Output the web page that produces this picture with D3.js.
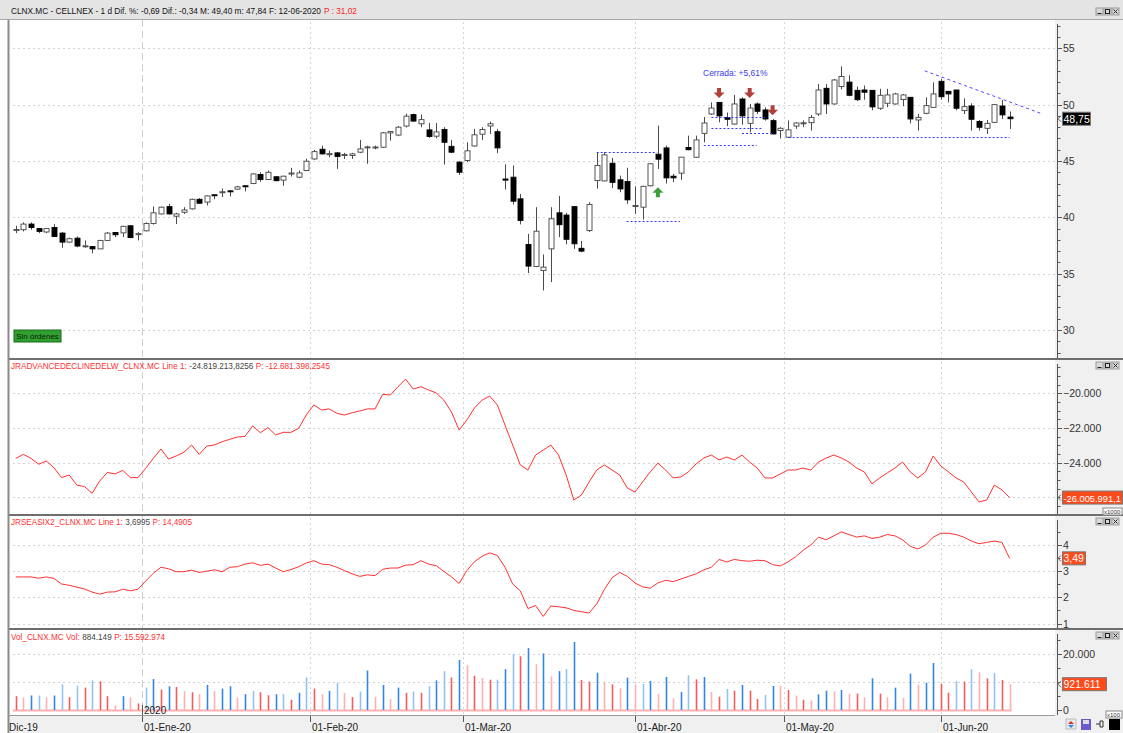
<!DOCTYPE html>
<html>
<head>
<meta charset="utf-8">
<script src="https://cdn.jsdelivr.net/npm/d3@7"></script>
<style>
  body { margin: 0; background: #fff; }
  svg { display: block; font-family: "Liberation Sans", Arial, sans-serif; }
  .grid { stroke: #d4d4d4; stroke-dasharray: 2,3; }
  .tick-label { font-size: 10.5px; fill: #333; }
  .date-label { font-size: 10px; fill: #222; }
</style>
</head>
<body>
<div id="chart"></div>
<script>
// daily candles, CLNX.MC, Dec-2019 .. 12-Jun-2020 (index = trading day)
const OPEN = [38.88,38.9,39.4,39.0,38.7,39.1,38.6,37.8,38.15,37.45,37.4,37.2,37.95,38.65,38.62,39.25,38.52,38.8,39.45,40.3,
  40.95,40.1,40.45,40.75,41.6,41.35,42.0,42.23,42.35,42.5,42.8,43.0,43.8,43.35,43.6,43.3,43.88,43.56,44.15,45.18,
  46.04,45.6,45.72,45.53,45.48,45.78,46.2,46.2,46.22,47.49,47.3,48.1,49.12,48.3,47.76,47.2,47.79,46.3,44.9,45.04,
  46.33,47.38,48.1,47.6,43.4,43.56,41.64,37.59,35.64,35.29,37.2,40.4,40.2,40.95,37.25,38.83,43.26,43.23,44.8,43.33,
  43.18,41.0,40.9,42.8,45.6,46.16,43.65,43.92,46.2,45.33,47.45,49.17,50.2,48.85,48.28,50.5,48.34,50.06,49.53,48.58,
  47.7,47.11,48.1,48.35,48.4,49.17,51.45,50.06,51.6,52.0,51.27,51.3,51.27,49.68,50.12,50.06,50.45,50.65,48.64,49.23,
  49.76,52.07,51.18,51.3,49.47,49.88,48.5,47.9,48.43,49.88,48.9];
const HIGH = [39.25,39.55,39.55,39.05,39.05,39.4,38.7,38.2,38.3,37.95,37.45,38.0,38.7,38.7,39.25,39.3,38.68,39.55,40.95,40.95,
  41.2,40.4,40.9,41.65,41.7,41.95,42.05,42.55,42.4,42.8,42.85,43.9,44.0,44.15,43.65,43.7,44.39,44.15,45.2,45.98,
  46.36,45.92,45.78,45.72,45.72,46.87,46.36,46.36,47.56,47.67,48.1,49.2,49.2,49.12,48.38,48.38,48.0,46.87,44.98,46.66,
  47.85,48.0,48.5,47.85,44.7,44.59,42.08,38.53,40.9,36.7,40.9,41.9,40.4,40.95,37.9,41.34,45.7,45.78,45.27,43.7,
  44.4,42.75,42.8,44.8,48.14,46.36,43.85,45.34,47.25,47.25,48.9,50.2,50.2,49.3,50.86,50.65,50.06,50.2,49.76,48.73,
  48.0,48.6,48.43,48.6,49.08,51.83,51.83,52.28,53.4,52.6,51.6,51.7,51.27,51.4,51.4,51.04,50.95,50.65,49.17,50.65,
  51.98,52.28,51.2,51.3,50.56,50.12,48.64,48.64,50.06,50.42,49.4];
const LOW = [38.6,38.75,38.9,38.6,38.6,38.25,37.3,37.75,37.35,37.3,36.8,37.2,37.9,38.25,38.25,38.15,37.95,38.75,39.35,40.25,
  40.25,39.4,40.3,40.7,41.2,41.05,41.6,41.8,41.85,42.45,42.3,42.95,43.15,43.3,43.2,42.8,43.62,43.47,44.1,45.1,
  45.57,45.33,44.3,45.18,45.18,45.69,44.75,46.04,46.16,46.81,47.2,47.97,48.47,48.0,47.05,47.02,44.68,45.69,43.76,44.9,
  46.27,46.87,47.4,45.69,42.47,41.14,39.37,35.05,35.58,33.51,34.25,38.24,37.6,37.2,36.9,38.69,42.55,43.2,42.6,42.23,
  41.2,40.3,39.8,42.75,44.3,43.0,43.12,43.33,45.95,45.27,46.66,49.1,48.43,48.1,48.22,48.22,47.55,49.17,48.58,47.35,
  47.0,47.05,47.85,48.0,47.7,49.0,49.17,50.0,51.36,50.74,50.32,50.44,49.5,49.53,49.77,50.0,49.86,48.34,47.7,49.14,
  49.7,50.44,50.2,49.5,49.17,47.7,47.7,47.4,48.37,48.73,47.84];
const CLOSE = [38.92,39.4,39.1,38.75,39.0,38.3,37.8,38.1,37.45,37.47,37.2,37.95,38.6,38.45,39.2,38.2,38.55,39.45,40.4,40.9,
  40.3,40.3,40.65,41.6,41.25,41.9,41.95,42.27,42.3,42.7,42.75,43.85,43.35,44.0,43.25,43.65,43.93,43.94,44.98,45.83,
  45.63,45.65,45.4,45.57,45.63,46.07,46.25,46.24,47.5,47.61,48.0,48.98,48.54,48.67,47.17,47.58,46.66,45.78,44.0,45.9,
  47.32,47.79,48.3,46.16,43.3,41.43,39.72,35.67,38.77,35.58,39.87,39.34,38.05,37.65,37.0,41.14,44.6,45.54,43.1,42.52,
  41.55,41.05,42.75,44.75,45.16,43.5,43.5,45.34,46.0,46.87,48.37,49.7,49.0,48.7,50.06,49.0,49.7,49.41,48.73,47.4,
  47.9,47.76,48.37,48.39,48.87,51.3,50.06,52.19,52.5,50.83,50.44,51.1,49.8,50.83,50.86,50.95,50.86,48.73,48.87,49.91,
  50.95,50.7,50.95,49.68,49.82,48.7,47.99,48.34,50.0,49.09,48.75];

// JRADVANCEDECLINEDELW (axis units x1000)
const ADL = [-23.75,-23.52,-23.75,-24.09,-23.90,-24.29,-24.86,-24.71,-25.29,-25.38,-25.76,-25.05,-24.56,-24.65,-24.44,-24.86,-24.86,-24.32,-23.75,-23.21,
  -23.79,-23.61,-23.40,-22.98,-23.52,-23.04,-22.98,-22.79,-22.65,-22.52,-22.48,-21.88,-22.27,-21.98,-22.40,-22.25,-22.25,-22.02,-21.25,-20.67,
  -20.96,-20.90,-21.15,-21.25,-21.12,-21.02,-20.90,-20.90,-20.06,-20.10,-19.62,-19.19,-19.75,-19.62,-19.81,-19.98,-20.39,-21.08,-22.12,-21.54,
  -20.85,-20.39,-20.16,-20.67,-21.83,-22.98,-24.13,-24.42,-23.56,-23.27,-22.98,-23.56,-24.71,-26.15,-25.86,-25.11,-24.42,-24.13,-24.42,-24.71,
  -25.46,-25.69,-25.11,-24.53,-24.02,-24.42,-24.88,-24.82,-24.53,-24.07,-23.73,-23.56,-23.84,-23.67,-23.84,-23.56,-23.96,-24.31,-24.88,-24.88,
  -24.65,-24.42,-24.42,-24.31,-24.42,-23.96,-23.73,-23.56,-23.73,-23.96,-24.31,-24.53,-25.22,-24.88,-24.59,-24.31,-23.96,-24.53,-24.88,-24.53,
  -23.62,-24.19,-24.53,-24.88,-25.11,-25.69,-26.26,-26.15,-25.29,-25.57,-26.01];

// JRSEASIX2
const SEASIX = [2.78,2.78,2.78,2.73,2.78,2.72,2.51,2.46,2.39,2.32,2.20,2.12,2.20,2.21,2.31,2.25,2.31,2.62,2.92,3.15,
  3.09,2.98,2.98,3.04,2.95,3.00,3.05,2.98,3.15,3.17,3.27,3.32,3.22,3.27,3.12,2.98,3.06,3.17,3.31,3.40,
  3.27,3.25,3.15,3.02,2.90,2.80,2.86,2.83,3.07,3.12,3.12,3.23,3.25,3.40,3.27,3.21,2.99,2.78,2.53,3.02,
  3.36,3.57,3.70,3.60,3.15,2.51,2.25,1.57,1.69,1.27,1.67,1.64,1.60,1.50,1.45,1.40,1.75,2.30,2.75,2.95,
  2.80,2.55,2.40,2.35,2.55,2.65,2.60,2.70,2.80,2.90,3.05,3.15,3.45,3.35,3.45,3.40,3.38,3.42,3.40,3.25,
  3.20,3.35,3.55,3.80,4.00,4.30,4.20,4.35,4.50,4.40,4.30,4.35,4.25,4.30,4.40,4.35,4.20,3.95,3.85,4.00,
  4.30,4.45,4.45,4.40,4.30,4.15,4.05,4.10,4.15,4.10,3.49];

// volume (axis units x100) and bar shade: B/b up vs previous volume, R/r down
const VOLUME = [4940,4470,5170,5170,4470,5170,9170,4590,8700,8000,10580,10230,4940,1650,4940,4470,2350,8000,11050,7290,
  8470,8230,6820,6350,5640,8940,6820,7640,8470,4470,5640,6820,6350,5290,5640,5640,3650,6120,11640,7640,
  5640,6820,9640,6120,4590,6590,14110,4700,8940,3880,8000,6120,6590,6120,8470,10580,13880,11640,17880,16000,
  12230,11410,10820,10820,14580,20000,19170,22110,16350,20230,12000,13880,14640,24280,10710,10120,13330,10120,9170,7740,
  11550,9170,9290,10360,5830,11790,4170,6430,12380,10950,11790,6430,4760,7500,6900,8930,6900,3930,5360,8570,
  8570,7140,5120,3690,3450,5590,6900,6660,7140,5830,5830,4520,11310,5830,4520,7970,4280,12970,9040,9760,
  16780,9290,6190,10360,10120,14520,13450,11310,13210,10710,9216];
const VOL_SHADE = ("R r B b r B b R b R b R R r B r R b B R B R r R r B r B B r B b R R B b R B b R " +
  "r B b r R b B r B r B R b R b B b R B r R r R b B b R B r B r B b B R R B r R r " +
  "B r b B r B r B b R B r R b R B R R b B r R r R r B B r B r R r B R r B r B r B " +
  "B R R b R b r R b R r").split(" ");

// month ticks, fractional trading-day positions
const MONTH_TICKS = [
  { pos: 16.5, label: "01-Ene-20" },
  { pos: 38.5, label: "01-Feb-20" },
  { pos: 58.5, label: "01-Mar-20" },
  { pos: 81, label: "01-Abr-20" },
  { pos: 100.5, label: "01-May-20" },
  { pos: 121, label: "01-Jun-20" },
];
const EDGE_LABEL = "Dic-19"; // left-most month, only its tail is on screen
const YEAR_TICK = { pos: 16.5, label: "2020" };

// drawing annotations on the price panel
const SIGNALS = [
  { i: 84, type: "buy", price: 42.67 },
  { i: 92, type: "sell", price: 50.6 },
  { i: 96, type: "sell", price: 50.6 },
  { i: 99, type: "sell", price: 49.05 },
];
const LEVELS = [
  { from: 76, to: 83.9, price: 45.83 },
  { from: 79.9, to: 86.9, price: 39.69 },
  { from: 90, to: 96.9, price: 46.42 },
  { from: 91, to: 97.8, price: 47.93 },
  { from: 91, to: 98, price: 48.94 },
  { from: 95, to: 99.1, price: 47.46 },
  { from: 101.1, to: 130, price: 47.16 },
];
const TREND = [{ i: 118.9, price: 53.0 }, { i: 134, price: 49.25 }];

// panel headers: [text, colour] pieces and the width the platform gives them
const TITLES = [
  { y: 14, width: 346, parts: [["CLNX.MC - CELLNEX - 1 d Dif. %: -0,69 Dif.: -0,34 M: 49,40 m: 47,84 F: 12-06-2020", "#111"], ["P : 31,02", "#ff2020"]] },
  { y: 369, width: 319, parts: [["JRADVANCEDECLINEDELW_CLNX.MC", "#ff3030"], ["Line 1:", "#ff3030"], ["-24.819.213,8256", "#444"], ["P: -12.681.398,2545", "#ff3030"]] },
  { y: 525, width: 181, parts: [["JRSEASIX2_CLNX.MC", "#ff3030"], ["Line 1:", "#ff3030"], ["3,6995", "#444"], ["P: 14,4905", "#ff3030"]] },
  { y: 640, width: 154, parts: [["Vol_CLNX.MC", "#ff3030"], ["Vol:", "#ff3030"], ["884.149", "#444"], ["P: 15.592.974", "#ff3030"]] },
];

const W = 1123, H = 733;
const LEFT = 9, RIGHT = 1055;
const PANELS = [
  { key: "price", top: 20, bottom: 358 },
  { key: "adl", top: 360, bottom: 514 },
  { key: "sea", top: 516, bottom: 628 },
  { key: "vol", top: 630, bottom: 715 },
];

const svg = d3.select("#chart").append("svg").attr("width", W).attr("height", H);

const x = d3.scaleLinear().domain([0, CLOSE.length - 1]).range([15.7, 1009.6]);
const yPrice = d3.scaleLinear().domain([30, 55]).range([330, 48.3]);
const yAdl = d3.scaleLinear().domain([-26, -20]).range([497.4, 393.3]);
const ySea = d3.scaleLinear().domain([1, 4]).range([623.5, 545]);
const yVol = d3.scaleLinear().domain([0, 20000]).range([710, 654]);

const esNum = (v, digits) => {
  const s = d3.format(`,.${digits}f`)(v);
  return s.replace(/,/g, "#").replace(".", ",").replace(/#/g, ".");
};

// backgrounds
svg.append("rect").attr("width", W).attr("height", H).attr("fill", "#fff");
svg.append("rect").attr("x", RIGHT).attr("y", 19).attr("width", W - RIGHT).attr("height", 697).attr("fill", "#f0f0f0");
svg.append("rect").attr("x", 8).attr("y", 715).attr("width", W - 8).attr("height", 18).attr("fill", "#f0f0f0");
svg.append("rect").attr("width", W).attr("height", 19).attr("fill", "#e4e4e4");
svg.append("line").attr("x1", 0).attr("x2", W).attr("y1", 19.5).attr("y2", 19.5).attr("stroke", "#a8a8a8");

// grid
const scales = { price: yPrice, adl: yAdl, sea: ySea, vol: yVol };
const gridVals = {
  price: [30, 35, 40, 45, 50, 55],
  adl: [-26, -24, -22, -20],
  sea: [1, 2, 3, 4],
  vol: [10000, 20000],
};
const gGrid = svg.append("g");
PANELS.forEach((p) => {
  gGrid.selectAll(null)
    .data(gridVals[p.key])
    .join("line")
    .attr("class", "grid")
    .attr("x1", LEFT + 4).attr("x2", RIGHT)
    .attr("y1", (d) => Math.round(scales[p.key](d)) + 0.5)
    .attr("y2", (d) => Math.round(scales[p.key](d)) + 0.5);
  gGrid.selectAll(null)
    .data(MONTH_TICKS.filter((t) => t.pos !== YEAR_TICK.pos))
    .join("line")
    .attr("class", "grid")
    .attr("x1", (d) => Math.round(x(d.pos)) + 0.5).attr("x2", (d) => Math.round(x(d.pos)) + 0.5)
    .attr("y1", p.top + 2).attr("y2", p.bottom);
});
svg.append("line")
  .attr("x1", Math.round(x(YEAR_TICK.pos)) + 0.5).attr("x2", Math.round(x(YEAR_TICK.pos)) + 0.5)
  .attr("y1", 20).attr("y2", 712)
  .attr("stroke", "#cfcfcf").attr("stroke-dasharray", "7,4");

// candles
const gCandle = svg.append("g");
const idx = d3.range(CLOSE.length);
gCandle.selectAll("line")
  .data(idx)
  .join("line")
  .attr("x1", (i) => Math.round(x(i)) + 0.5).attr("x2", (i) => Math.round(x(i)) + 0.5)
  .attr("y1", (i) => yPrice(HIGH[i])).attr("y2", (i) => yPrice(LOW[i]))
  .attr("stroke", "#4a4a4a");
gCandle.selectAll("rect")
  .data(idx)
  .join("rect")
  .attr("x", (i) => Math.round(x(i)) - 2)
  .attr("y", (i) => yPrice(Math.max(OPEN[i], CLOSE[i])))
  .attr("width", 5)
  .attr("height", (i) => Math.max(1, Math.abs(yPrice(OPEN[i]) - yPrice(CLOSE[i]))))
  .attr("fill", (i) => (CLOSE[i] < OPEN[i] ? "#000" : "#fff"))
  .attr("stroke", (i) => (CLOSE[i] < OPEN[i] ? "#000" : "#444"))
  .attr("stroke-width", 0.9);

// blue drawing lines
svg.append("g").selectAll("line")
  .data(LEVELS)
  .join("line")
  .attr("x1", (d) => x(d.from)).attr("x2", (d) => x(d.to))
  .attr("y1", (d) => Math.round(yPrice(d.price)) + 0.5).attr("y2", (d) => Math.round(yPrice(d.price)) + 0.5)
  .attr("stroke", "#3838ff").attr("stroke-dasharray", "2,2");
svg.append("line")
  .attr("x1", x(TREND[0].i)).attr("y1", yPrice(TREND[0].price))
  .attr("x2", x(TREND[1].i)).attr("y2", yPrice(TREND[1].price))
  .attr("stroke", "#4a4aff").attr("stroke-dasharray", "3,3");

// signal arrows
const gSig = svg.append("g");
SIGNALS.forEach((s) => {
  const cx = x(s.i), ty = yPrice(s.price);
  const path = s.type === "sell"
    ? `M${cx - 2},${ty - 10} h4 v4.5 h3.5 l-5.5,5.5 l-5.5,-5.5 h3.5 z`
    : `M${cx - 2},${ty + 10} h4 v-4.5 h3.5 l-5.5,-5.5 l-5.5,5.5 h3.5 z`;
  gSig.append("path").attr("d", path).attr("fill", s.type === "sell" ? "#b0403c" : "#3e9e3e");
});
svg.append("text").attr("x", 703).attr("y", 76).attr("font-size", 8.5).attr("fill", "#3b3bf0").text("Cerrada: +5,61%");

// "Sin órdenes" tag
svg.append("rect").attr("x", 14).attr("y", 330).attr("width", 47).attr("height", 12).attr("fill", "#2f9f2f").attr("stroke", "#1d6d1d");
svg.append("text").attr("x", 37.5).attr("y", 339).attr("text-anchor", "middle").attr("font-size", 8).attr("fill", "#0b220b").text("Sin órdenes");

// indicator lines
svg.append("path")
  .datum(ADL)
  .attr("fill", "none").attr("stroke", "#ff3030").attr("stroke-width", 1)
  .attr("d", d3.line().x((d, i) => x(i)).y((d) => yAdl(d)));
svg.append("path")
  .datum(SEASIX)
  .attr("fill", "none").attr("stroke", "#ff3030").attr("stroke-width", 1)
  .attr("d", d3.line().x((d, i) => x(i)).y((d) => ySea(d)));

// volume
const VOL_COLORS = { R: "#f45c5c", r: "#ffb0b0", B: "#2f86e6", b: "#92c3f2" };
svg.append("line").attr("x1", x(0) - 3).attr("x2", x(CLOSE.length - 1) + 2)
  .attr("y1", yVol(0) + 0.5).attr("y2", yVol(0) + 0.5).attr("stroke", "#ffb0b0").attr("stroke-width", 2);
svg.append("g").selectAll("line")
  .data(VOLUME)
  .join("line")
  .attr("x1", (d, i) => Math.round(x(i)) + 0.5).attr("x2", (d, i) => Math.round(x(i)) + 0.5)
  .attr("y1", yVol(0)).attr("y2", (d) => yVol(d))
  .attr("stroke", (d, i) => VOL_COLORS[VOL_SHADE[i]]).attr("stroke-width", 1.6);

// panel separators and left border
[359, 515, 629].forEach((yy) => {
  svg.append("line").attr("x1", 8).attr("x2", W).attr("y1", yy).attr("y2", yy).attr("stroke", "#6e6e6e").attr("stroke-width", 2);
});
svg.append("line").attr("x1", 8.5).attr("x2", 8.5).attr("y1", 20).attr("y2", 733).attr("stroke", "#8a8a8a").attr("stroke-width", 2);

// right axes
function drawAxis(scale, top, bottom, labelVals, minorStep, fmt) {
  const g = svg.append("g");
  g.append("line").attr("x1", RIGHT + 2.5).attr("x2", RIGHT + 2.5).attr("y1", top + 4).attr("y2", bottom)
    .attr("stroke", "#555");
  const lo = scale.invert(bottom), hi = scale.invert(top + 4);
  const minors = d3.range(Math.ceil(lo / minorStep) * minorStep, hi, minorStep);
  g.selectAll(".minor")
    .data(minors)
    .join("line")
    .attr("x1", RIGHT + 2.5).attr("x2", RIGHT + 5.5)
    .attr("y1", (d) => Math.round(scale(d)) + 0.5).attr("y2", (d) => Math.round(scale(d)) + 0.5)
    .attr("stroke", "#555");
  g.selectAll(".major")
    .data(labelVals)
    .join("line")
    .attr("x1", RIGHT + 2.5).attr("x2", RIGHT + 7)
    .attr("y1", (d) => Math.round(scale(d)) + 0.5).attr("y2", (d) => Math.round(scale(d)) + 0.5)
    .attr("stroke", "#555");
  g.selectAll("text")
    .data(labelVals)
    .join("text")
    .attr("class", "tick-label")
    .attr("x", RIGHT + 8).attr("y", (d) => scale(d) + 4)
    .text(fmt);
}
drawAxis(yPrice, 20, 358, [30, 35, 40, 45, 50, 55], 1, (d) => d);
drawAxis(yAdl, 360, 514, [-24, -22, -20], 0.5, (d) => esNum(d * 1000, 0));
drawAxis(ySea, 516, 628, [1, 2, 3, 4], 0.5, (d) => d);
drawAxis(yVol, 630, 715, [0, 20000], 5000, (d) => esNum(d, 0));

// last-value boxes
function valueBox(yy, text, w, fill, fs) {
  const g = svg.append("g");
  g.append("path").attr("d", `M${RIGHT + 6},${yy - 3} l-3,3 l3,3`).attr("fill", "none").attr("stroke", "#666");
  g.append("rect").attr("x", RIGHT + 7.5).attr("y", yy - 6.5).attr("width", w).attr("height", 13)
    .attr("fill", fill).attr("stroke", "#777");
  g.append("text").attr("x", RIGHT + 8.5).attr("y", yy + 4).attr("font-size", fs).attr("fill", "#fff").text(text);
}
valueBox(yPrice(CLOSE[CLOSE.length - 1]), "48,75", 28, "#000", 10.5);
valueBox(yAdl(ADL[ADL.length - 1]), "-26.005.991,1", 60, "#ff4a1a", 9.3);
valueBox(ySea(SEASIX[SEASIX.length - 1]), "3,49", 23, "#ff4a1a", 10.5);
valueBox(yVol(VOLUME[VOLUME.length - 1]), "921.611", 44, "#ff4a1a", 10.5);

// scale multiplier tags
function multTag(x0, yy, text, w) {
  svg.append("rect").attr("x", x0).attr("y", yy).attr("width", w).attr("height", 7).attr("fill", "#fff").attr("stroke", "#888");
  svg.append("text").attr("x", x0 + 1).attr("y", yy + 6).attr("font-size", 6).attr("fill", "#333").text(text);
}
multTag(1103, 508, "x1000", 19);
multTag(1106, 711, "x100", 16);

// date axis
const gDate = svg.append("g");
gDate.selectAll("line")
  .data(MONTH_TICKS)
  .join("line")
  .attr("x1", (d) => Math.round(x(d.pos)) + 0.5).attr("x2", (d) => Math.round(x(d.pos)) + 0.5)
  .attr("y1", 716).attr("y2", 722).attr("stroke", "#555");
gDate.selectAll("text")
  .data(MONTH_TICKS)
  .join("text")
  .attr("class", "date-label")
  .attr("x", (d) => Math.round(x(d.pos)) + 2).attr("y", 731)
  .text((d) => d.label);
gDate.append("text").attr("class", "date-label").attr("x", 9).attr("y", 731).text(EDGE_LABEL);
gDate.append("line")
  .attr("x1", Math.round(x(YEAR_TICK.pos)) + 0.5).attr("x2", Math.round(x(YEAR_TICK.pos)) + 0.5)
  .attr("y1", 705).attr("y2", 716).attr("stroke", "#555");
gDate.append("text").attr("x", Math.round(x(YEAR_TICK.pos)) + 2).attr("y", 714).attr("font-size", 10).attr("fill", "#222")
  .text(YEAR_TICK.label);
svg.append("line").attr("x1", 8).attr("x2", RIGHT).attr("y1", 715.5).attr("y2", 715.5).attr("stroke", "#9a9a9a");

// panel titles: one text per piece, glyphs condensed horizontally so the row fills its width
TITLES.forEach((t) => {
  const g = svg.append("g");
  const fs = 9.5, gap = 0.3 * fs;
  const pieces = t.parts.map(([txt, col]) =>
    g.append("text").attr("y", t.y).attr("font-size", fs).attr("fill", col).text(txt));
  let cx = 0;
  pieces.forEach((p) => {
    p.attr("x", cx);
    cx += p.node().getComputedTextLength() + gap;
  });
  const sx = t.width / (cx - gap);
  g.attr("transform", `translate(11,0) scale(${sx},1)`);
});

// window buttons
function winButtons(yy) {
  const g = svg.append("g");
  [1096, 1104, 1112].forEach((bx, k) => {
    g.append("rect").attr("x", bx).attr("y", yy).attr("width", 7).attr("height", 7).attr("fill", "#d9d9d9").attr("stroke", "#9a9a9a");
    if (k === 0) g.append("line").attr("x1", bx + 1.5).attr("x2", bx + 5.5).attr("y1", yy + 5.5).attr("y2", yy + 5.5).attr("stroke", "#222");
    if (k === 1) g.append("rect").attr("x", bx + 1.5).attr("y", yy + 1.5).attr("width", 4).attr("height", 4).attr("fill", "none").attr("stroke", "#222");
    if (k === 2) g.append("path").attr("d", `M${bx + 1.5},${yy + 1.5} l4,4 M${bx + 5.5},${yy + 1.5} l-4,4`).attr("stroke", "#222");
  });
}
winButtons(8);
winButtons(362);
winButtons(518);
winButtons(632);

// bottom-right toolbar icons
svg.append("rect").attr("x", 1066).attr("y", 719).attr("width", 10).attr("height", 10).attr("fill", "#e8e8e8").attr("stroke", "#bbb");
svg.append("path").attr("d", "M1068,724 l3,-3 l3,3 z").attr("fill", "#d03030");
svg.append("path").attr("d", "M1068,725 l3,3 l3,-3 z").attr("fill", "#2f86e6");
svg.append("rect").attr("x", 1081).attr("y", 719).attr("width", 10).attr("height", 11).attr("fill", "#6a5acd");
svg.append("rect").attr("x", 1083).attr("y", 720).attr("width", 6).attr("height", 4).attr("fill", "#ddd");
svg.append("path").attr("d", "M1096,724 h4 M1100,721 v6 h3 v-6 z").attr("fill", "none").attr("stroke", "#333");
svg.append("rect").attr("x", 1109).attr("y", 719).attr("width", 11).attr("height", 11).attr("fill", "#000");
</script>
</body>
</html>
